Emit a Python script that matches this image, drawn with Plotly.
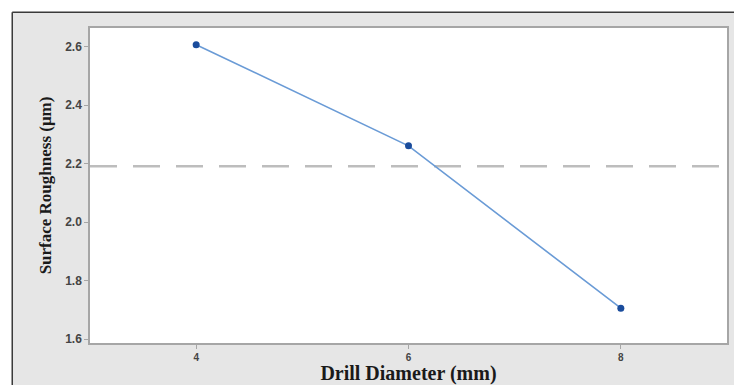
import plotly.graph_objects as go

# Main effects of drill diameter on surface roughness
drill_diameter = [4, 6, 8]
surface_roughness = [2.607, 2.261, 1.706]
x_ticks = [4, 6, 8]
y_ticks = [1.6, 1.8, 2.0, 2.2, 2.4, 2.6]
y_tick_labels = ["1.6", "1.8", "2.0", "2.2", "2.4", "2.6"]

grand_mean = sum(surface_roughness) / len(surface_roughness)

W, H = 734, 385
L, R, T, B = 90, 5, 28, 38
pw, ph = W - L - R, H - T - B


def px_x(p):
    return (p - L) / pw


def px_y(p):
    return (H - B - p) / ph


fig = go.Figure()
fig.add_trace(go.Scatter(
    x=drill_diameter, y=surface_roughness, mode="lines+markers",
    line=dict(color="#6a9bd6", width=1.6),
    marker=dict(color="#1a4c9c", size=7, symbol="circle"),
    showlegend=False, hoverinfo="x+y",
))

frame_x = px_x(12)
frame_y = px_y(12)
shapes = [
    # overall mean reference line
    dict(type="line", xref="paper", yref="y", x0=0, x1=1, y0=grand_mean, y1=grand_mean,
         line=dict(color="#bdbdbd", width=2.5, dash="27px,16px"), layer="between"),
    # white margin strips and dark frame edges
    dict(type="rect", xref="paper", yref="paper", x0=-0.3, x1=1.3, y0=frame_y, y1=1.3,
         fillcolor="white", line=dict(width=0), layer="above"),
    dict(type="rect", xref="paper", yref="paper", x0=-0.3, x1=frame_x, y0=-0.3, y1=1.3,
         fillcolor="white", line=dict(width=0), layer="above"),
    dict(type="line", xref="paper", yref="paper", x0=frame_x, x1=1.3, y0=frame_y, y1=frame_y,
         line=dict(color="#3a3a3a", width=1.5), layer="above"),
    dict(type="line", xref="paper", yref="paper", x0=frame_x, x1=frame_x, y0=-0.3, y1=frame_y,
         line=dict(color="#3a3a3a", width=1.5), layer="above"),
]

axis_common = dict(
    showgrid=False, zeroline=False, showline=True, linecolor="#a6a6a6", linewidth=1.5,
    mirror=True, ticks="outside", ticklen=4, tickcolor="#a6a6a6", tickwidth=1,
)

fig.update_layout(
    width=W, height=H,
    margin=dict(l=L, r=R, t=T, b=B),
    paper_bgcolor="#e6e6e6", plot_bgcolor="white",
    shapes=shapes,
    xaxis=dict(
        range=[3.0, 9.0], tickvals=x_ticks, ticktext=[str(v) for v in x_ticks],
        tickfont=dict(family="Liberation Sans", size=10, color="#444444", weight="bold"),
        title=dict(text="Drill Diameter (mm)", standoff=3,
                   font=dict(family="Liberation Serif", size=20, color="#1a1a1a", weight="bold")),
        **axis_common,
    ),
    yaxis=dict(
        range=[1.587, 2.664], tickvals=y_ticks, ticktext=y_tick_labels,
        tickfont=dict(family="Liberation Sans", size=12, color="#444444", weight="bold"),
        title=dict(text="Surface Roughness (μm)", standoff=9,
                   font=dict(family="Liberation Serif", size=17, color="#1a1a1a", weight="bold")),
        **axis_common,
    ),
)

fig.write_html("out.html")
